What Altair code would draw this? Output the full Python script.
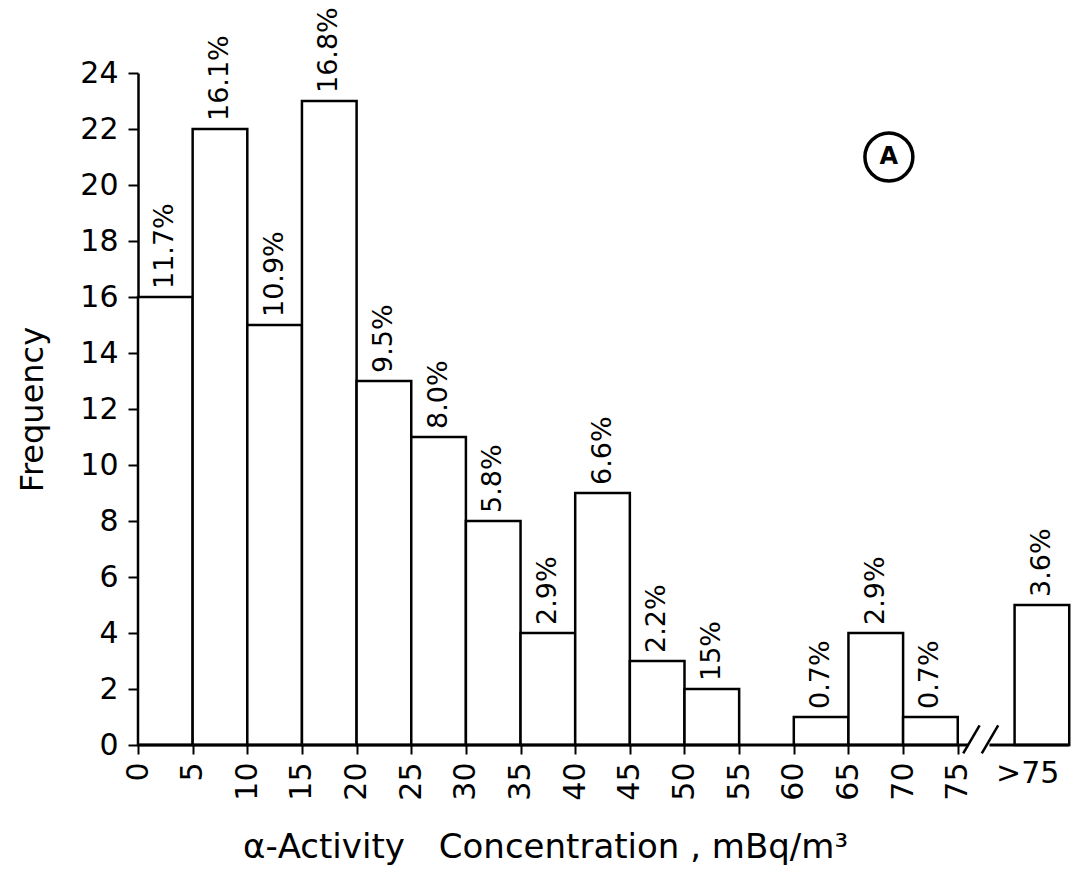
import altair as alt
import pandas as pd

# ---- data ----
bin_start = [0, 5, 10, 15, 20, 25, 30, 35, 40, 45, 50, 60, 65, 70, 80.2]
bin_end = [5, 10, 15, 20, 25, 30, 35, 40, 45, 50, 55, 65, 70, 75, 85.2]
frequency = [16, 22, 15, 23, 13, 11, 8, 4, 9, 3, 2, 1, 4, 1, 5]
percent_labels = ["11.7%", "16.1%", "10.9%", "16.8%", "9.5%", "8.0%", "5.8%",
                  "2.9%", "6.6%", "2.2%", "15%", "0.7%", "2.9%", "0.7%", "3.6%"]
x_tick_values = [0, 5, 10, 15, 20, 25, 30, 35, 40, 45, 50, 55, 60, 65, 70, 75]
y_tick_values = [0, 2, 4, 6, 8, 10, 12, 14, 16, 18, 20, 22, 24]

# axis baseline pieces (broken between 75 and >75) and the "//" break marks
baseline_start = [0, 77.9]
baseline_end = [76.0, 85.2]
break_x = [75.5, 77.2]
break_x2 = [77.0, 78.7]
break_y = [-0.3, -0.3]
break_y2 = [0.7, 0.7]

open_label = [">75"]
open_label_x = [81.4]
open_label_y = [-1.05]

panel_letter = ["A"]
panel_x = [68.7]
panel_y = [21.0]

FONT = "DejaVu Sans"

bars_df = pd.DataFrame({"start": bin_start, "end": bin_end,
                        "freq": frequency, "pct": percent_labels})
base_df = pd.DataFrame({"s": baseline_start, "e": baseline_end})
brk_df = pd.DataFrame({"x": break_x, "x2": break_x2, "y": break_y, "y2": break_y2})
open_df = pd.DataFrame({"t": open_label, "x": open_label_x, "y": open_label_y})
panel_df = pd.DataFrame({"t": panel_letter, "x": panel_x, "y": panel_y})

xs = alt.Scale(domain=[0, 85.27], nice=False, zero=False)
ys = alt.Scale(domain=[0, 24], nice=False)

x_axis = alt.Axis(
    values=x_tick_values, labelAngle=270, domain=False, grid=False,
    tickSize=9, tickWidth=2, tickColor="black",
    labelFont=FONT, labelFontSize=30, labelColor="black", labelPadding=8,
    labelFlush=False, labelOverlap=False,
    title="α-Activity\u2003Concentration , mBq/m³",
    titleFont=FONT, titleFontSize=34, titleFontWeight="normal", titleColor="black",
    titlePadding=30, titleX=407, titleAlign="center",
)
y_axis = alt.Axis(
    values=y_tick_values, domain=True, domainColor="black", domainWidth=2.5,
    grid=False, tickSize=10, tickWidth=2, tickColor="black",
    labelFont=FONT, labelFontSize=30, labelColor="black", labelPadding=10,
    title="Frequency", titleFont=FONT, titleFontSize=32, titleFontWeight="normal",
    titleColor="black", titlePadding=30,
)

bars = alt.Chart(bars_df).mark_rect(fill="white", stroke="black", strokeWidth=2.5).encode(
    x=alt.X("start:Q", scale=xs, axis=x_axis),
    x2="end:Q",
    y=alt.Y("freq:Q", scale=ys, axis=y_axis),
    y2=alt.datum(0),
)

pct_text = alt.Chart(bars_df).transform_calculate(
    mid="(datum.start + datum.end) / 2"
).mark_text(angle=270, align="left", baseline="middle", dx=8,
            font=FONT, fontSize=27, color="black").encode(
    x=alt.X("mid:Q", scale=xs),
    y=alt.Y("freq:Q", scale=ys),
    text="pct:N",
)

baseline = alt.Chart(base_df).mark_rule(color="black", strokeWidth=3).encode(
    x=alt.X("s:Q", scale=xs), x2="e:Q", y=alt.datum(0),
)

breaks = alt.Chart(brk_df).mark_rule(color="black", strokeWidth=2.5).encode(
    x=alt.X("x:Q", scale=xs), x2="x2:Q",
    y=alt.Y("y:Q", scale=ys), y2="y2:Q",
)

open_text = alt.Chart(open_df).mark_text(
    align="center", baseline="middle", font=FONT, fontSize=30, color="black"
).encode(x=alt.X("x:Q", scale=xs), y=alt.Y("y:Q", scale=ys), text="t:N")

panel_circle = alt.Chart(panel_df).mark_point(
    shape="circle", size=2300, filled=False, stroke="black", strokeWidth=3.5, opacity=1
).encode(x=alt.X("x:Q", scale=xs), y=alt.Y("y:Q", scale=ys))

panel_text = alt.Chart(panel_df).mark_text(
    align="center", baseline="middle", font=FONT, fontSize=24, fontWeight="bold", color="black"
).encode(x=alt.X("x:Q", scale=xs), y=alt.Y("y:Q", scale=ys), text="t:N")

chart = alt.layer(
    bars, baseline, breaks, pct_text, open_text, panel_circle, panel_text
).properties(
    width=932, height=672,
    autosize=alt.AutoSizeParams(type="none"),
    padding={"left": 130, "top": 65, "right": 2, "bottom": 130},
    background="white",
).configure_view(stroke=None)

chart.save("out.html", embed_options={"renderer": "svg", "actions": False})
